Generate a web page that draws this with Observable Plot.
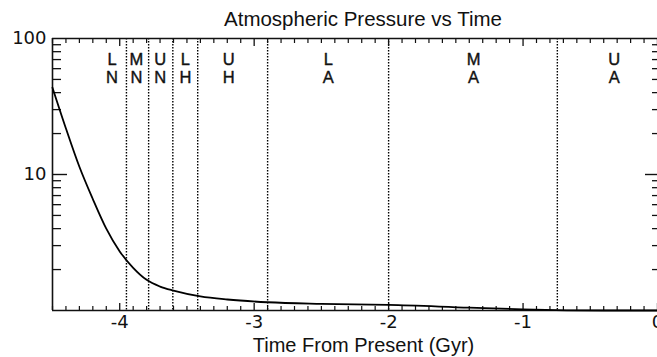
<!DOCTYPE html>
<html>
<head>
<meta charset="utf-8">
<script src="https://cdn.jsdelivr.net/npm/d3@7"></script>
<script src="https://cdn.jsdelivr.net/npm/@observablehq/plot@0.6"></script>
<style>
  html, body { margin: 0; padding: 0; background: #fff; overflow: hidden; }
</style>
</head>
<body>
<div id="chart"></div>
<script>
// Pressure curve (time in Gyr from present, pressure)
const curveTime = [-4.5, -4.4, -4.3, -4.2, -4.1, -4.0, -3.9, -3.8, -3.7, -3.6, -3.4, -3.2, -2.9, -2.5, -2.0, -1.4, -1.0, -0.4, 0];
const curvePressure = [43.5, 21.8, 11.4, 6.6, 4.0, 2.72, 2.06, 1.68, 1.50, 1.40, 1.27, 1.205, 1.15, 1.12, 1.10, 1.05, 1.02, 1.0, 1.0];

// Epoch boundaries (dotted lines)
const boundaries = [-3.95, -3.785, -3.605, -3.42, -2.9, -2.0, -0.745];

// Epoch labels
const epochTime = [-4.057, -3.876, -3.698, -3.512, -3.19, -2.449, -1.368, -0.322];
const epochTop = ["L", "M", "U", "L", "U", "L", "M", "U"];
const epochBottom = ["N", "N", "N", "H", "H", "A", "A", "A"];

// Ticks
const xMajorTicks = [-4, -3, -2, -1, 0];
const xTickLabels = ["-4", "-3", "-2", "-1", "0"];
const xMinorTicks = d3.range(-45, 0).map(i => i / 10).filter(v => Math.abs(v - Math.round(v)) > 1e-9);
const yMajorTicks = [10];
const yTickLabelValues = [100, 10];
const yTickLabels = ["100", "10"];
const yMinorTicks = [2, 3, 4, 5, 6, 7, 8, 9, 20, 30, 40, 50, 60, 70, 80, 90];

const titleText = "Atmospheric Pressure vs Time";
const xLabelText = "Time From Present (Gyr)";

const curveData = curveTime.map((t, i) => ({t, p: curvePressure[i]}));
const epochData = epochTime.map((t, i) => ({t, label: epochTop[i] + "\n" + epochBottom[i]}));
const xLabelData = xMajorTicks.map((v, i) => ({v, label: xTickLabels[i]}));
const yLabelData = yTickLabelValues.map((v, i) => ({v, label: yTickLabels[i]}));

const W = 657, H = 357, mL = 52, mR = 0, mT = 38, mB = 47;
const fh = H - mT - mB;   // frame height
const fw = W - mL - mR;   // frame width
const ink = "#111";
const sans = "Liberation Sans, Arial, Helvetica, sans-serif";

const chart = Plot.plot({
  width: W,
  height: H,
  marginLeft: mL,
  marginRight: mR,
  marginTop: mT,
  marginBottom: mB,
  style: {background: "#fff", overflow: "visible"},
  x: {domain: [-4.5, 0], axis: null},
  y: {type: "log", domain: [1, 100], axis: null},
  marks: [
    // epoch boundaries
    Plot.ruleX(boundaries, {stroke: "#000", strokeWidth: 1.4, strokeDasharray: "1.4,1.6"}),
    // bottom ticks
    Plot.tickX(xMinorTicks, {x: d => d, insetTop: fh - 4, stroke: ink, strokeWidth: 1.2}),
    Plot.tickX(xMajorTicks, {x: d => d, insetTop: fh - 7, stroke: ink, strokeWidth: 1.3}),
    // top ticks
    Plot.tickX(xMinorTicks, {x: d => d, insetBottom: fh - 5, stroke: ink, strokeWidth: 1.2}),
    Plot.tickX(xMajorTicks, {x: d => d, insetBottom: fh - 8, stroke: ink, strokeWidth: 1.3}),
    // left ticks
    Plot.tickY(yMinorTicks, {y: d => d, insetRight: fw - 9, stroke: ink, strokeWidth: 1.3}),
    Plot.tickY(yMajorTicks, {y: d => d, insetRight: fw - 15, stroke: ink, strokeWidth: 1.4}),
    // right ticks
    Plot.tickY(yMinorTicks, {y: d => d, insetLeft: fw - 5, stroke: ink, strokeWidth: 1.3}),
    Plot.tickY(yMajorTicks, {y: d => d, insetLeft: fw - 12, stroke: ink, strokeWidth: 1.4}),
    // frame lines
    Plot.ruleX([-4.5], {stroke: ink, strokeWidth: 1.6}),
    Plot.ruleY([1], {stroke: ink, strokeWidth: 1.6}),
    Plot.ruleY([100], {stroke: ink, strokeWidth: 1.4}),
    // curve
    Plot.line(curveData, {x: "t", y: "p", stroke: "#000", strokeWidth: 1.8, curve: "monotone-x"}),
    // epoch labels
    Plot.text(epochData, {x: "t", text: "label", frameAnchor: "top", lineAnchor: "top", dy: 14.5,
      lineHeight: 1.05, fontSize: 16.5, fontFamily: sans, fill: ink, stroke: ink, strokeWidth: 0.4}),
    // x tick labels
    Plot.text(xLabelData, {x: "v", text: "label", frameAnchor: "bottom", lineAnchor: "top", dy: 5,
      fontSize: 18, fontFamily: "DejaVu Sans, sans-serif", fill: ink}),
    // y tick labels
    Plot.text(yLabelData, {y: "v", text: "label", frameAnchor: "left", textAnchor: "end", dx: -6,
      fontSize: 18, fontFamily: "DejaVu Sans, sans-serif", fill: ink}),
    // title
    Plot.text([titleText], {frameAnchor: "top", lineAnchor: "bottom", dy: -13, dx: 8,
      fontSize: 20.5, fontFamily: sans, fill: ink}),
    // x axis label
    Plot.text([xLabelText], {frameAnchor: "bottom", lineAnchor: "bottom", dy: 41, dx: 8.5,
      fontSize: 20, fontFamily: sans, fill: ink})
  ]
});
document.getElementById("chart").appendChild(chart);
</script>
</body>
</html>
